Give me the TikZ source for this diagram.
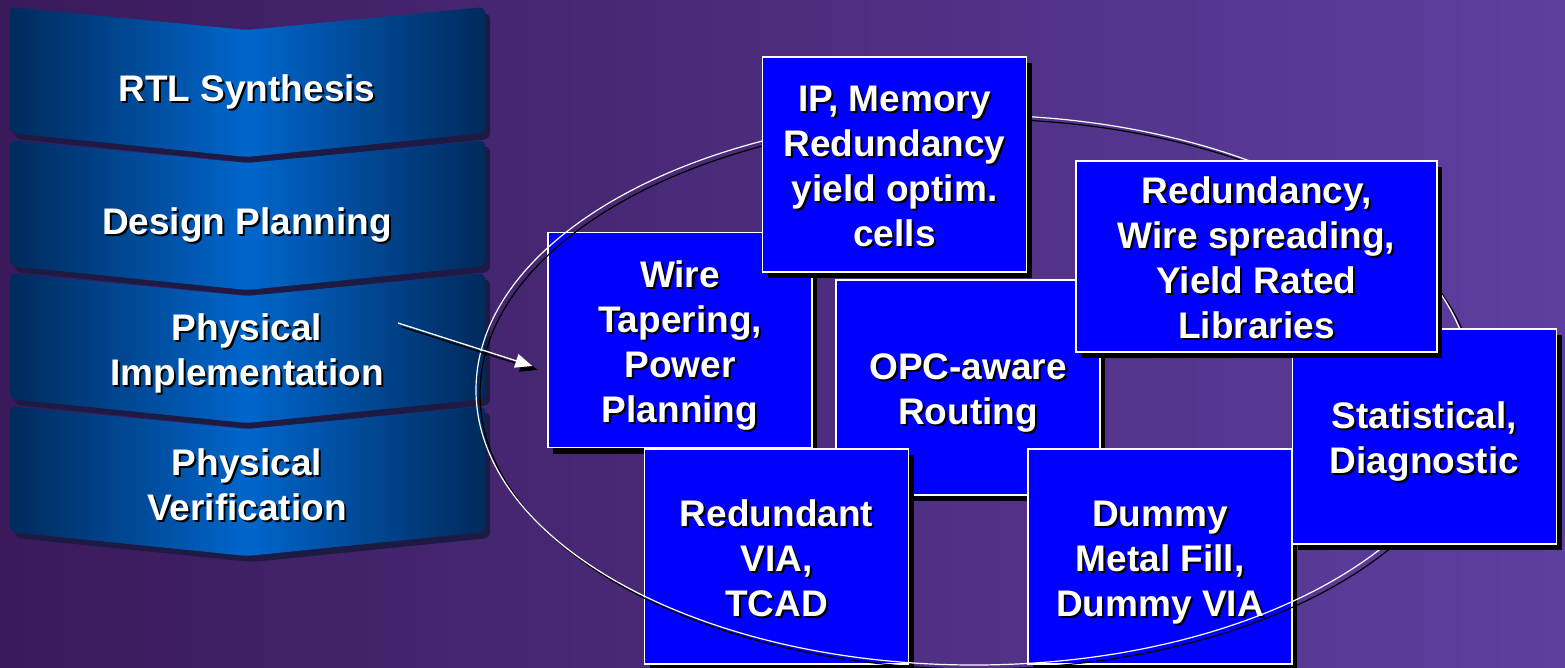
\documentclass[tikz,border=0pt]{standalone}
\usepackage{fontspec}
\setmainfont{Liberation Sans}
\usetikzlibrary{positioning,shadows,arrows.meta}

\definecolor{bgleft}{HTML}{3A1A5A}
\definecolor{bgright}{HTML}{5E3FA0}
\definecolor{chevdark}{HTML}{002A5C}
\definecolor{chevmid}{HTML}{0066CC}
\definecolor{chevshadow}{HTML}{1D1A44}
\definecolor{boxblue}{HTML}{0000FF}

% white text with a dark drop shadow, one line at a time (fixed line height)
\newcommand{\shd}[1]{\rule[-8pt]{0pt}{45pt}\makebox[0pt][l]{\hspace{2pt}\raisebox{-2pt}[0pt][0pt]{\color{black}#1}}#1}

\begin{document}
\begin{tikzpicture}[
    x=1pt,
    y=-1pt,
    stage/.style={
        left color=chevdark,
        right color=chevdark,
        middle color=chevmid,
        rounded corners=6pt,
        drop shadow={fill=chevshadow, opacity=1, shadow xshift=5pt, shadow yshift=-6pt}
    },
    stagetext/.style={
        text=white,
        font=\fontsize{37}{45}\selectfont\bfseries,
        align=center
    },
    box/.style={
        rectangle,
        draw=white,
        fill=boxblue,
        text=white,
        font=\fontsize{37}{45}\selectfont\bfseries,
        align=center,
        inner sep=0pt,
        minimum width=264pt,
        minimum height=215pt,
        line width=1.2pt,
        drop shadow={fill=black, opacity=1, shadow xshift=5pt, shadow yshift=-6pt}
    },
    ring/.style={
        draw=white,
        line width=1.2pt
    },
    ringshadow/.style={
        draw=black,
        line width=1.2pt
    },
    pointer/.style={
        draw=white,
        line width=1.3pt,
        -{Triangle[length=17pt,width=14pt]}
    },
    pointershadow/.style={
        draw=black,
        line width=1.3pt,
        -{Triangle[length=17pt,width=14pt]}
    }
]

    % Background
    \useasboundingbox (0,0) rectangle (1565,667);
    \fill[left color=bgleft, right color=bgright] (0,0) rectangle (1565,667);

    % Flow stages
    \path[stage] (10,7) -- (247,30) -- (485,7) -- (485,133) -- (247,157) -- (10,133) -- cycle;
    \path[stage] (10,140) -- (247,163) -- (485,140) -- (485,266) -- (247,290) -- (10,266) -- cycle;
    \path[stage] (10,273) -- (247,296) -- (485,273) -- (485,399) -- (247,423) -- (10,399) -- cycle;
    \path[stage] (10,406) -- (247,429) -- (485,406) -- (485,532) -- (247,556) -- (10,532) -- cycle;

    \node[stagetext] (rtl) at (247,87) {\shd{RTL Synthesis}};
    \node[stagetext] (plan) at (247,220) {\shd{Design Planning}};
    \node[stagetext] (impl) at (247,348) {\shd{Physical}\\\shd{Implementation}};
    \node[stagetext] (verif) at (247,483) {\shd{Physical}\\\shd{Verification}};

    % Techniques (lower layer)
    \node[box] (wire) at (680,340) {\shd{Wire}\\\shd{Tapering,}\\\shd{Power}\\\shd{Planning}};
    \node[box] (opc) at (968,387.5) {\shd{OPC-aware}\\\shd{Routing}};
    \node[box] (via) at (776.5,556.5) {\shd{Redundant}\\\shd{VIA,}\\\shd{TCAD}};
    \node[box] (dummy) at (1160,556.5) {\shd{Dummy}\\\shd{Metal Fill,}\\\shd{Dummy VIA}};

    % Ring
    \draw[ringshadow] (978,394) ellipse [x radius=498pt, y radius=275pt];
    \draw[ring] (974,390) ellipse [x radius=498pt, y radius=275pt];

    % Techniques (upper layer)
    \node[box] (stat) at (1424.5,436.5) {\shd{Statistical,}\\\shd{Diagnostic}};
    \node[box] (ipmem) at (894.5,164.5) {\shd{IP, Memory}\\\shd{Redundancy}\\\shd{yield optim.}\\\shd{cells}};
    \node[box, minimum width=361pt, minimum height=191pt] (redund) at (1256.5,256.5)
        {\shd{Redundancy,}\\\shd{Wire spreading,}\\\shd{Yield Rated}\\\shd{Libraries}};

    % Pointer
    \coordinate (ptr) at (398,323);
    \draw[pointershadow] ([shift={(4pt,-4pt)}]ptr) -- ([shift={(-10pt,-30pt)}]wire.west);
    \draw[pointer] (ptr) -- ([shift={(-15pt,-26pt)}]wire.west);

\end{tikzpicture}
\end{document}
